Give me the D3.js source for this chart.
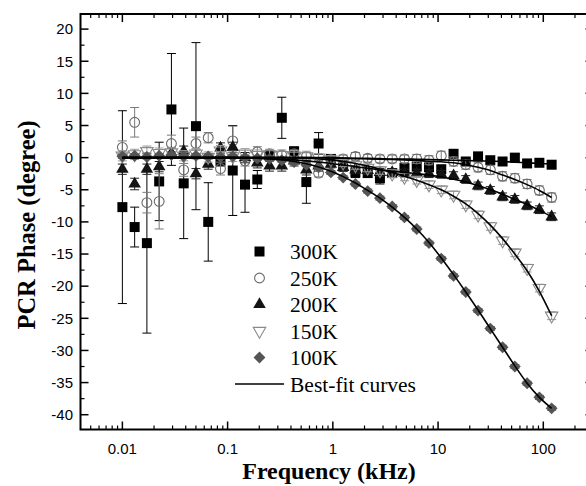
<!DOCTYPE html>
<html><head><meta charset="utf-8">
<script src="https://cdn.jsdelivr.net/npm/d3@7/dist/d3.min.js"></script>
<style>body{margin:0;background:#fff}svg{display:block}</style>
</head><body><svg id="c" width="586" height="486"></svg>
<script>
// Frequencies (kHz)
const freq = [0.0100,0.01308,0.01710,0.02237,0.02925,0.03826,0.05004,0.06544,0.08558,0.1119,0.1464,0.1915,0.2504,0.3275,0.4283,0.5601,0.7325,0.9580,1.253,1.639,2.143,2.803,3.665,4.794,6.269,8.199,10.72,14.03,18.34,23.99,31.37,41.03,53.66,70.18,91.78,120.0];
const seriesNames = ["300K","250K","200K","150K","100K"];
const p300 = [-7.7,-10.8,-13.3,-3.7,7.5,-4.0,4.9,-10.0,-0.5,-2.0,-4.2,-3.4,0.3,6.2,1.0,-3.8,2.2,-0.2,-1.3,-2.3,-2.4,-3.2,-2.4,-1.6,-1.4,-1.5,-1.8,0.6,-0.6,0.2,-0.4,-0.6,0.0,-0.9,-0.8,-1.1];
const e300 = [15.0,3.1,14.0,6.1,8.7,8.6,13.0,6.1,0.8,7.0,4.3,1.4,0.8,3.2,0.6,3.3,1.7,0.6,0.8,0.8,0.6,0.9,0.6,0.5,0.5,0.5,0.5,0.5,0.5,0.5,0.5,0.5,0.5,0.5,0.5,0.5];
const p250 = [1.6,5.5,-7.0,-6.8,2.2,-1.9,2.2,3.1,-1.7,2.6,-0.5,0.9,0.6,0.4,0.6,0.2,-2.4,-0.3,-0.2,0.2,-0.1,-0.2,-0.2,-0.2,-0.2,-0.4,0.3,-0.6,-1.1,-1.5,-1.9,-2.9,-3.2,-4.1,-5.1,-6.2];
const e250 = [1.0,2.3,1.6,4.3,1.3,1.0,1.0,0.8,1.0,2.3,0.8,0.8,0.6,0.6,0.6,0.6,0.6,0.6,0.6,0.6,0.6,0.6,0.6,0.6,0.7,0.7,0.7,0.7,0.7,0.7,0.7,0.7,0.7,0.7,0.7,0.7];
const p200 = [-1.8,-4.1,-1.8,-1.4,0.7,1.0,-2.5,-1.0,1.5,1.6,0.0,-0.8,-1.3,-1.3,-0.5,-1.9,-1.3,-1.0,-1.5,-1.9,-2.0,-2.3,-2.3,-2.4,-2.4,-2.5,-2.6,-2.8,-3.4,-4.4,-5.1,-6.1,-6.5,-7.5,-8.1,-9.2];
const e200 = [0.8,0.9,0.8,0.8,0.8,0.8,0.8,0.8,0.8,0.8,0.8,0.8,0.8,0.8,0.8,0.8,0.8,0.6,0.6,0.6,0.6,0.6,0.6,0.6,0.6,0.6,0.6,0.6,0.6,0.6,0.6,0.6,0.6,0.6,0.6,0.6];
const p150 = [0.3,0.5,1.0,0.7,0.8,0.3,0.6,0.1,1.1,0.2,0.6,0.4,0.5,0.4,0.3,0.2,0.0,-0.3,-0.8,-1.2,-1.6,-2.0,-2.5,-3.0,-3.5,-4.2,-5.0,-5.8,-7.3,-8.9,-10.7,-12.9,-14.8,-17.2,-20.3,-24.6];
const e150 = [0.8,0.8,0.8,0.8,0.8,0.8,0.8,0.8,0.8,0.8,0.8,0.8,0.8,0.8,0.8,0.8,0.6,0.6,0.6,0.6,0.6,0.6,0.6,0.6,0.6,0.6,0.6,0.6,0.6,0.6,0.6,0.6,0.6,0.6,0.6,0.6];
const p100 = [0.2,0.3,0.1,0.3,0.4,0.2,0.3,0.2,0.1,0.2,0.0,-0.1,-0.2,-0.4,-0.7,-1.1,-1.5,-2.3,-3.1,-4.1,-5.2,-6.3,-7.6,-9.3,-11.1,-13.3,-15.7,-18.4,-20.9,-23.8,-26.6,-29.5,-32.5,-35.1,-37.3,-39.0];
const e100 = [0.3,0.3,0.3,0.3,0.3,0.3,0.3,0.3,0.3,0.3,0.3,0.3,0.3,0.3,0.3,0.3,0.3,0.3,0.3,0.3,0.3,0.3,0.3,0.3,0.3,0.3,0.3,0.3,0.3,0.3,0.3,0.3,0.3,0.3,0.3,0.3];
// Best-fit curves (read at the same frequencies)
const f300 = [0,0,0,0,0,0,0,0,0,0,0,0,0,0,0,0,0,0,-0.05,-0.1,-0.1,-0.15,-0.2,-0.2,-0.25,-0.3,-0.35,-0.4,-0.45,-0.5,-0.55,-0.6,-0.7,-0.8,-0.9,-1.0];
const f250 = [0,0,0,0,0,0,0,0,0,0,0,0,0,0,0,0,-0.02,-0.05,-0.1,-0.15,-0.2,-0.25,-0.3,-0.35,-0.45,-0.55,-0.65,-0.8,-1.1,-1.5,-2.0,-2.7,-3.4,-4.2,-5.1,-6.2];
const f200 = [0,0,0,0,0,0,0,0,0,0,-0.05,-0.1,-0.15,-0.25,-0.35,-0.5,-0.7,-0.9,-1.15,-1.4,-1.65,-1.9,-2.1,-2.3,-2.5,-2.7,-3.0,-3.35,-3.8,-4.35,-5.0,-5.7,-6.5,-7.3,-8.2,-9.2];
const f150 = [0,0,0,0,0,0,0,0,0,0,0,0,0,0,-0.05,-0.1,-0.2,-0.35,-0.6,-0.9,-1.3,-1.8,-2.3,-2.9,-3.5,-4.2,-5.0,-6.0,-7.2,-8.7,-10.5,-12.6,-15.0,-17.6,-20.8,-24.6];
const f100 = [0,0,0,0,0,0,0,0,0,0,-0.05,-0.1,-0.2,-0.35,-0.6,-0.95,-1.45,-2.1,-2.95,-3.95,-5.1,-6.3,-7.7,-9.3,-11.1,-13.2,-15.6,-18.2,-20.9,-23.7,-26.6,-29.5,-32.4,-35.1,-37.3,-39.0];
const xTicks = [0.01,0.1,1,10,100];
const xTickLabels = ["0.01","0.1","1","10","100"];
const yTicks = [20,15,10,5,0,-5,-10,-15,-20,-25,-30,-35,-40];
const legendLast = "Best-fit curves";
const xTitle = "Frequency (kHz)";
const yTitle = "PCR Phase (degree)";

const svg = d3.select("#c");
const L = 80.5, R = 593.5, T = 14, B = 429.5;
const x = d3.scaleLog().domain([0.004, 300]).range([L, R]);
const y = d3.scaleLinear().domain([-42.3, 22.35]).range([B, T]);

// symbols
const styles = [
  {type:"sq", fill:"#000", stroke:"none", ec:"#000"},
  {type:"ci", fill:"none", stroke:"#6a6a6a", ec:"#7a7a7a"},
  {type:"tu", fill:"#141414", stroke:"none", ec:"#222"},
  {type:"td", fill:"none", stroke:"#8a8a8a", ec:"#999"},
  {type:"di", fill:"#555", stroke:"none", ec:"#555"}
];
function symPath(type){
  if(type==="sq") return d3.symbol(d3.symbolSquare, 100)();
  if(type==="ci") return d3.symbol(d3.symbolCircle, 76)();
  if(type==="tu" || type==="td") return d3.symbol(d3.symbolTriangle, 68)();
  if(type==="di") return d3.symbol(d3.symbolSquare, 70)();
}
function symTransform(type, cx, cy){
  if(type==="td") return `translate(${cx},${cy}) rotate(180)`;
  if(type==="di") return `translate(${cx},${cy}) rotate(45)`;
  return `translate(${cx},${cy})`;
}

const vals = [p300,p250,p200,p150,p100];
const errs = [e300,e250,e200,e150,e100];
const fits = [f300,f250,f200,f150,f100];

const plot = svg.append("g");
vals.forEach((v,si)=>{
  const st = styles[si];
  const g = plot.append("g");
  const data = freq.map((f,i)=>({f, v:v[i], e:errs[si][i]}));
  const eb = g.append("g").attr("stroke", st.ec).attr("stroke-width",1).attr("fill","none");
  data.forEach(d=>{
    const cx = x(d.f), y1 = y(d.v+d.e), y2 = y(d.v-d.e);
    eb.append("line").attr("x1",cx).attr("x2",cx).attr("y1",y1).attr("y2",y2);
    eb.append("line").attr("x1",cx-4.5).attr("x2",cx+4.5).attr("y1",y1).attr("y2",y1);
    eb.append("line").attr("x1",cx-4.5).attr("x2",cx+4.5).attr("y1",y2).attr("y2",y2);
  });
  g.selectAll("path.s").data(data).join("path").attr("class","s")
    .attr("d", symPath(st.type))
    .attr("transform", d=>symTransform(st.type, x(d.f), y(d.v)))
    .attr("fill", st.fill).attr("stroke", st.stroke).attr("stroke-width",1.1);
});
// fit curves
const line = d3.line().x(d=>x(d.f)).y(d=>y(d.v)).curve(d3.curveMonotoneX);
fits.forEach(fv=>{
  plot.append("path").datum(freq.map((f,i)=>({f, v:fv[i]})))
    .attr("d", line).attr("fill","none").attr("stroke","#000").attr("stroke-width",1.6);
});

// frame & ticks
const ax = svg.append("g").attr("stroke","#000");
ax.append("rect").attr("x",L).attr("y",T).attr("width",R-L).attr("height",B-T)
  .attr("fill","none").attr("stroke-width",2);
const minorX = [];
for(let e=-3;e<=2;e++) for(let m=2;m<=9;m++){ const v=m*Math.pow(10,e); if(v>0.004 && v<300) minorX.push(v); }
xTicks.forEach(v=>{
  ax.append("line").attr("x1",x(v)).attr("x2",x(v)).attr("y1",B).attr("y2",B-8).attr("stroke-width",1.5);
  ax.append("line").attr("x1",x(v)).attr("x2",x(v)).attr("y1",T).attr("y2",T+8).attr("stroke-width",1.5);
});
minorX.forEach(v=>{
  ax.append("line").attr("x1",x(v)).attr("x2",x(v)).attr("y1",B).attr("y2",B-4).attr("stroke-width",1.2);
  ax.append("line").attr("x1",x(v)).attr("x2",x(v)).attr("y1",T).attr("y2",T+4).attr("stroke-width",1.2);
});
yTicks.forEach(v=>{
  ax.append("line").attr("x1",L).attr("x2",L+8).attr("y1",y(v)).attr("y2",y(v)).attr("stroke-width",1.5);
  ax.append("line").attr("x1",R).attr("x2",R-8).attr("y1",y(v)).attr("y2",y(v)).attr("stroke-width",1.5);
});
for(let v=-42.5; v<=22.5; v+=5){
  if(v<-42.3||v>22.35) continue;
  ax.append("line").attr("x1",L).attr("x2",L+4).attr("y1",y(v)).attr("y2",y(v)).attr("stroke-width",1.2);
  ax.append("line").attr("x1",R).attr("x2",R-4).attr("y1",y(v)).attr("y2",y(v)).attr("stroke-width",1.2);
}
// tick labels
const tl = svg.append("g").attr("font-family","'Liberation Sans', Arial, sans-serif").attr("font-size",15).attr("fill","#000");
yTicks.forEach(v=>{
  tl.append("text").attr("x",73).attr("y",y(v)+5.3).attr("text-anchor","end").text(String(v));
});
xTicks.forEach((v,i)=>{
  tl.append("text").attr("x",x(v)).attr("y",454).attr("text-anchor","middle").text(xTickLabels[i]);
});
// titles
svg.append("text").attr("x",329).attr("y",479).attr("text-anchor","middle")
  .attr("font-family","'Liberation Serif', 'Times New Roman', serif").attr("font-weight","bold").attr("font-size",24).text(xTitle);
svg.append("text").attr("transform","translate(35,225) rotate(-90)").attr("text-anchor","middle")
  .attr("font-family","'Liberation Serif', 'Times New Roman', serif").attr("font-weight","bold").attr("font-size",24.5).text(yTitle);

// legend
const lg = svg.append("g");
const ly0 = 251.5, ldy = 26.5;
seriesNames.forEach((n,i)=>{
  const st = styles[i], cy = ly0 + i*ldy;
  lg.append("path").attr("d", symPath(st.type)).attr("transform", symTransform(st.type, 259.5, cy))
    .attr("fill", st.fill).attr("stroke", st.stroke).attr("stroke-width",1.1);
  lg.append("text").attr("x",290).attr("y",cy+7.5).attr("font-family","'Liberation Serif', 'Times New Roman', serif")
    .attr("font-size",21.5).text(n);
});
const lcy = ly0 + 5*ldy;
lg.append("line").attr("x1",235).attr("x2",284).attr("y1",lcy).attr("y2",lcy).attr("stroke","#000").attr("stroke-width",1.6);
lg.append("text").attr("x",290).attr("y",lcy+7.5).attr("font-family","'Liberation Serif', 'Times New Roman', serif")
  .attr("font-size",21.5).text(legendLast);
</script></body></html>
